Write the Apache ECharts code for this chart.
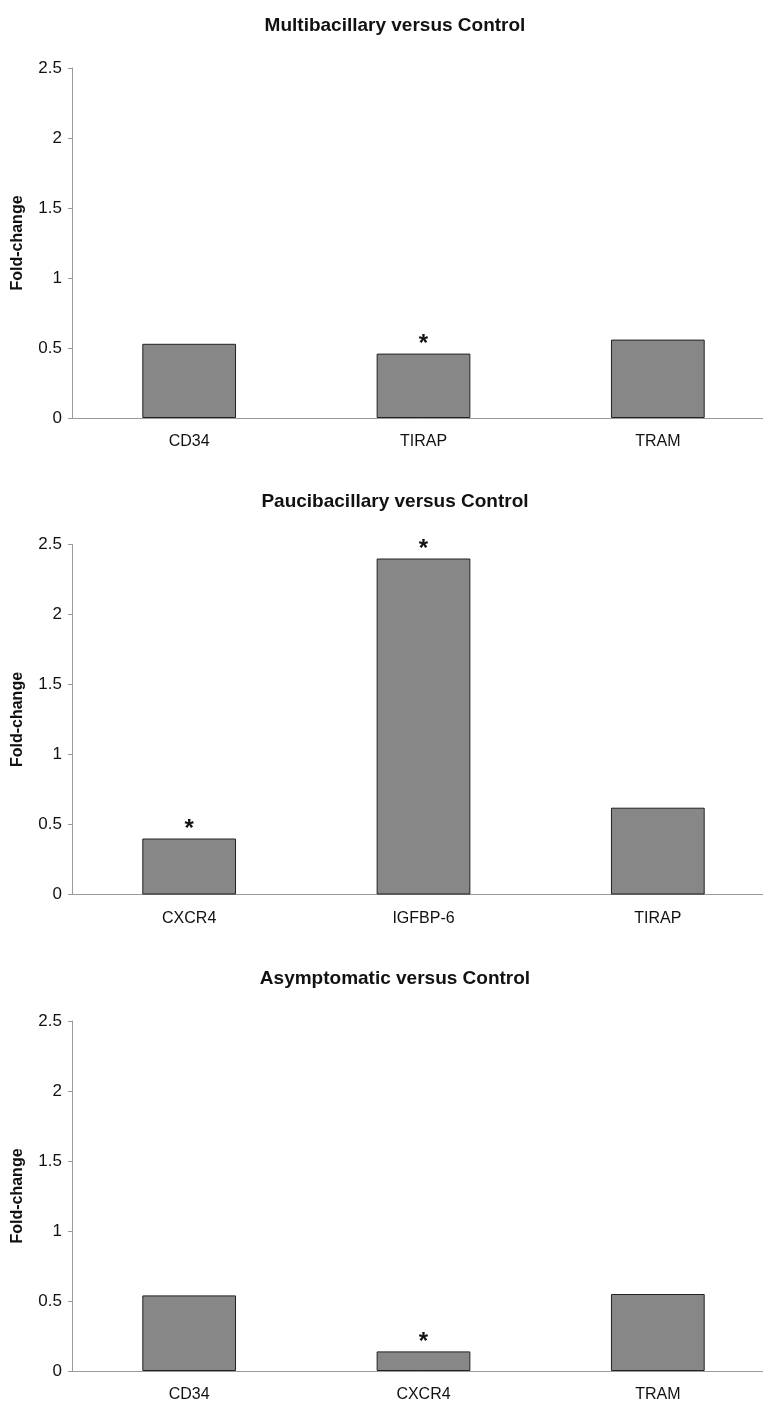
<!DOCTYPE html>
<html>
<head>
<meta charset="utf-8">
<title>Fold-change by group</title>
<script src="https://cdn.jsdelivr.net/npm/echarts@6/dist/echarts.min.js"></script>
<style>
  html, body { margin: 0; padding: 0; background: #fff; }
  #chart { width: 763px; height: 1408px; }
</style>
</head>
<body>
<div id="chart"></div>
<script>
// Panel titles
const panelTitles = [
  'Multibacillary versus Control',
  'Paucibacillary versus Control',
  'Asymptomatic versus Control'
];

// Genes per panel
const genesMB = ['CD34', 'TIRAP', 'TRAM'];
const genesPB = ['CXCR4', 'IGFBP-6', 'TIRAP'];
const genesAS = ['CD34', 'CXCR4', 'TRAM'];

// Fold-change values
const foldMB = [0.53, 0.46, 0.56];
const foldPB = [0.40, 2.40, 0.62];
const foldAS = [0.54, 0.14, 0.55];

// Significance flags (drawn as an asterisk above the bar)
const sigMB = [false, true, false];
const sigPB = [true, true, false];
const sigAS = [false, true, false];

// Y axis ticks
const yMin = 0, yMax = 2.5, yStep = 0.5;

const panels = [
  { genes: genesMB, fold: foldMB, sig: sigMB },
  { genes: genesPB, fold: foldPB, sig: sigPB },
  { genes: genesAS, fold: foldAS, sig: sigAS }
];

const panelOffset = 476.5;
const plotTop = 68;
const plotHeight = 350;
const titleTop = 11;

const FONT = '"Liberation Sans", Arial, Helvetica, sans-serif';

const option = {
  animation: false,
  backgroundColor: '#ffffff',
  title: panelTitles.map((t, i) => ({
    text: t,
    left: 390,
    top: titleTop + i * panelOffset,
    textAlign: 'center',
    textStyle: { fontFamily: FONT, fontSize: 19, fontWeight: 'bold', color: '#111' }
  })),
  grid: panels.map((p, i) => ({
    left: 72,
    top: plotTop + i * panelOffset,
    width: 703,
    height: plotHeight,
    outerBoundsMode: 'none'
  })),
  xAxis: panels.map((p, i) => ({
    type: 'category',
    gridIndex: i,
    data: p.genes,
    axisLine: { lineStyle: { color: '#9a9a9a', width: 1 } },
    axisTick: { show: false },
    axisLabel: { fontFamily: FONT, fontSize: 16, color: '#111', margin: 16 },
    splitLine: { show: false }
  })),
  yAxis: panels.map((p, i) => ({
    type: 'value',
    gridIndex: i,
    min: yMin,
    max: yMax,
    interval: yStep,
    name: 'Fold-change',
    nameLocation: 'middle',
    nameRotate: 90,
    nameGap: 46,
    nameTextStyle: { fontFamily: FONT, fontSize: 16, fontWeight: 'bold', color: '#111' },
    axisLine: { show: true, lineStyle: { color: '#9a9a9a', width: 1 } },
    axisTick: { show: true, length: 4, lineStyle: { color: '#9a9a9a' } },
    axisLabel: { fontFamily: FONT, fontSize: 17, color: '#111', margin: 10 },
    splitLine: { show: false }
  })),
  series: panels.map((p, i) => ({
    type: 'bar',
    xAxisIndex: i,
    yAxisIndex: i,
    barWidth: '40%',
    data: p.fold.map((v, k) => ({
      value: v,
      label: {
        show: p.sig[k],
        position: 'top',
        formatter: '*',
        distance: -3,
        fontFamily: FONT,
        fontSize: 24,
        fontWeight: 'bold',
        color: '#111'
      }
    })),
    itemStyle: { color: '#878787', borderColor: '#222', borderWidth: 1 }
  }))
};

const chart = echarts.init(document.getElementById('chart'), null, { renderer: 'canvas' });
chart.setOption(option);
</script>
</body>
</html>
